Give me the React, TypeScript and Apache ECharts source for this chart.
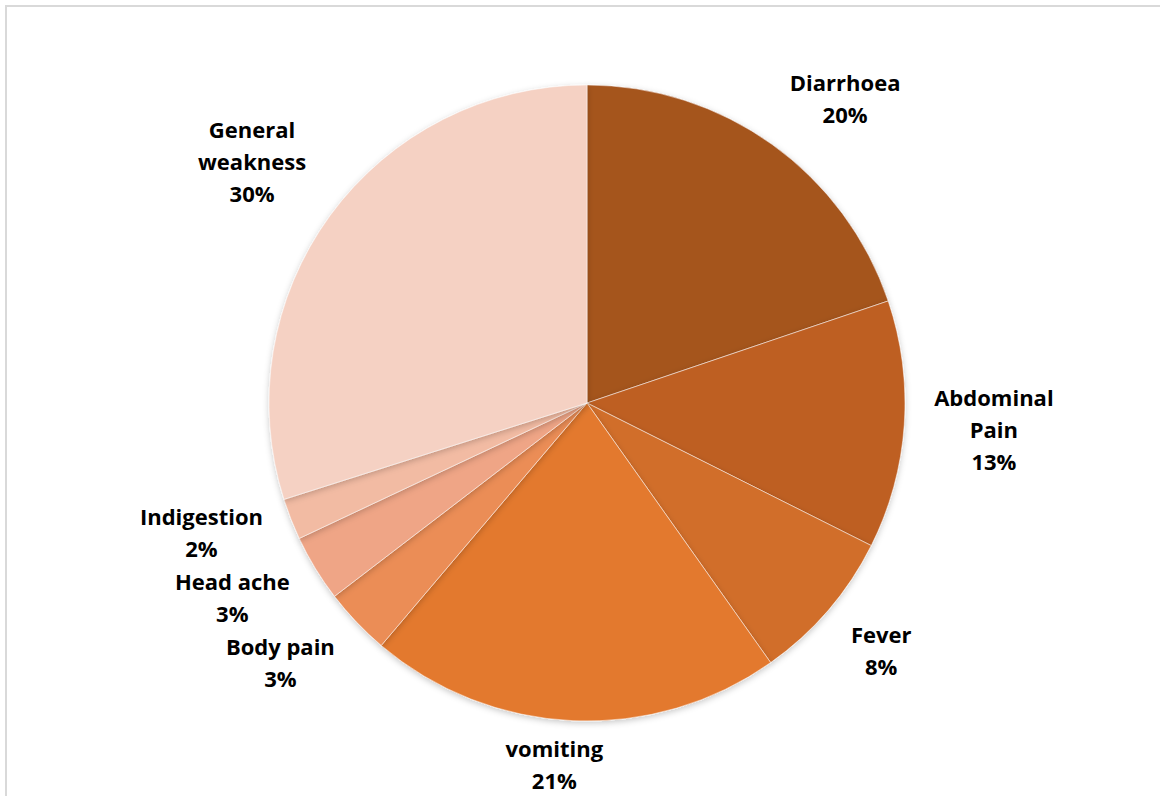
import React, { useEffect, useRef } from "react";
import * as echarts from "echarts";

const categories = ["Diarrhoea", "Abdominal\nPain", "Fever", "vomiting", "Body pain", "Head ache", "Indigestion", "General\nweakness"];
const values = [19.8, 12.6, 7.8, 21.0, 3.4, 3.4, 2.1, 29.9];
const colors = ["#A5541F", "#BE5F23", "#D16E2A", "#E3792F", "#EB8D57", "#EFA586", "#F2BBA3", "#F5D1C3"];

const CX = 587;
const CY = 403;
const R = 318;
const GAP_X = 30;
const GAP_Y = 16;
const BOTTOM_LIMIT = 796;

export default function App() {
  const ref = useRef<HTMLDivElement>(null);
  useEffect(() => {
    if (!ref.current) return;
    const chart = echarts.init(ref.current, null, { renderer: "svg" });
    const total = values.reduce((a, b) => a + b, 0);
    const mids: number[] = [];
    let acc = 0;
    values.forEach((v) => {
      const midFrac = (acc + v / 2) / total;
      mids.push(Math.PI / 2 - midFrac * 2 * Math.PI);
      acc += v;
    });
    const boxes: Record<number, { cx: number; cy: number; w: number; h: number }> = {};
    const clamp = (v: number) => Math.max(-1, Math.min(1, v));
    chart.setOption({
      animation: false,
      backgroundColor: "#ffffff",
      graphic: [
        {
          type: "rect",
          shape: { x: 6, y: 6, width: 1250, height: 900 },
          style: { fill: "none", stroke: "#d9d9d9", lineWidth: 2 },
          silent: true,
        },
      ],
      series: [
        {
          type: "pie",
          center: [CX, CY],
          radius: [0, R],
          startAngle: 90,
          clockwise: true,
          avoidLabelOverlap: false,
          itemStyle: {
            borderColor: "#ffffff",
            borderWidth: 0.5,
            shadowBlur: 6,
            shadowColor: "rgba(0,0,0,0.22)",
            shadowOffsetY: 2,
          },
          label: {
            show: true,
            position: "outside",
            formatter: (p: any) => `${p.name}\n${Math.round(p.value)}%`,
            fontFamily: "Open Sans",
            fontWeight: "bold",
            fontSize: 22,
            lineHeight: 32,
            color: "#000000",
            align: "center",
          },
          labelLine: { show: false },
          labelLayout: (params: any) => {
            const i = params.dataIndex;
            const a = mids[i];
            const w = params.labelRect.width;
            const h = params.labelRect.height;
            const c = Math.cos(a);
            const s = Math.sin(a);
            const px = CX + c * (R + GAP_X);
            const py = CY - s * (R + GAP_Y);
            let cx = px + clamp(c * 2.5) * w / 2;
            let cy = py - clamp(s * 2.5) * (h - 6) / 2 - (c > 0 && s > -0.3 ? 5 : 0);
            if (cy + h / 2 > BOTTOM_LIMIT) {
              cy = BOTTOM_LIMIT - h / 2;
              cx -= 12;
            }
            const prev = boxes[i - 1];
            if (c < 0 && s < 0 && prev && prev.cx < CX) {
              const maxBottom = prev.cy - prev.h / 2 - 1;
              if (cy + h / 2 > maxBottom) cy = maxBottom - h / 2;
            }
            boxes[i] = { cx, cy, w, h };
            return {
              x: cx,
              y: cy,
              align: "center",
              verticalAlign: "middle",
            };
          },
          data: categories.map((name, i) => ({
            name,
            value: values[i],
            itemStyle: { color: colors[i] },
          })),
        },
      ],
    });
    return () => chart.dispose();
  }, []);
  return (
    <div
      ref={ref}
      style={{ position: "fixed", left: 0, top: 0, width: 1160, height: 796 }}
    />
  );
}
